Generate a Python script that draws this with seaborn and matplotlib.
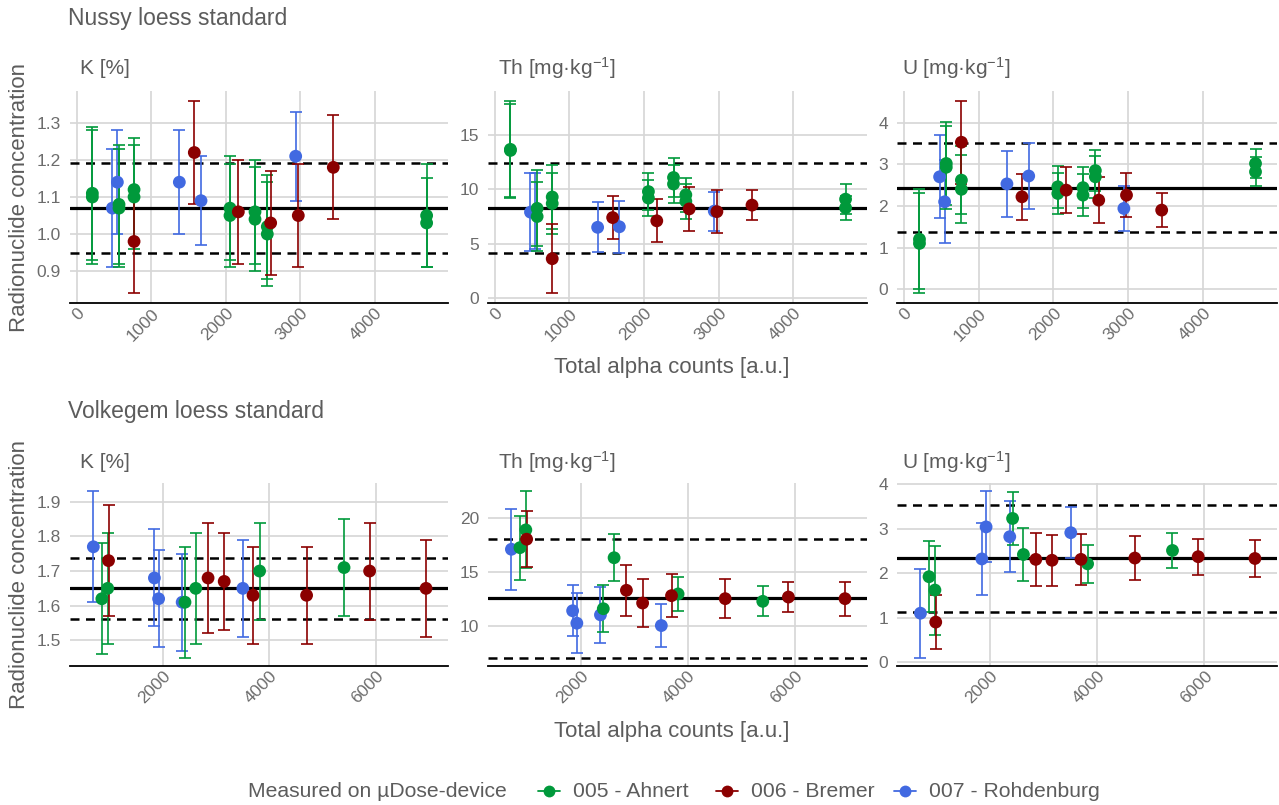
#!/usr/bin/env python3
"""
Loess standards measured on three uDose devices: K, Th and U against total alpha counts.
"""

import matplotlib
matplotlib.use("Agg")
import matplotlib.pyplot as plt
import matplotlib.transforms as mtransforms
from matplotlib.lines import Line2D
import pandas as pd
import seaborn as sns

W, H = 1279, 805

DEVICES = ["005 - Ahnert", "006 - Bremer", "007 - Rohdenburg"]
PALETTE = {"005 - Ahnert": "#00993B", "006 - Bremer": "#8B0000", "007 - Rohdenburg": "#4169E1"}
NUCLIDES = ["K", "Th", "U"]
STRIP_LABELS = ["K [%]", "Th [mg·kg$^{-1}$]", "U [mg·kg$^{-1}$]"]
SITES = ["Nussy loess standard", "Volkegem loess standard"]

# ---- Nussy loess standard ----
nussy_x_005 = [210, 210, 568, 568, 770, 770, 2058, 2058, 2394, 2394, 2559, 2559, 4698, 4698]
nussy_k_005 = [1.11, 1.10, 1.08, 1.07, 1.12, 1.10, 1.07, 1.05, 1.06, 1.04, 1.02, 1.00, 1.05, 1.03]
nussy_k_err_005 = [0.18, 0.18, 0.16, 0.16, 0.14, 0.14, 0.14, 0.14, 0.14, 0.14, 0.14, 0.14, 0.14, 0.12]
nussy_th_005 = [13.7, 13.6, 8.25, 7.5, 9.3, 8.7, 9.8, 9.2, 11.1, 10.5, 9.5, 8.9, 9.1, 8.3]
nussy_th_err_005 = [4.5, 4.3, 3.5, 3.2, 3.0, 2.8, 1.7, 1.7, 1.8, 1.8, 1.6, 1.6, 1.4, 1.1]
nussy_u_005 = [1.2, 1.1, 3.02, 2.93, 2.62, 2.4, 2.46, 2.3, 2.44, 2.26, 2.85, 2.7, 3.02, 2.82]
nussy_u_err_005 = [1.2, 1.2, 1.0, 1.0, 0.82, 0.82, 0.5, 0.5, 0.5, 0.5, 0.5, 0.5, 0.35, 0.35]

nussy_x_006 = [770, 1579, 2170, 2604, 2975, 3445]
nussy_k_006 = [0.98, 1.22, 1.06, 1.03, 1.05, 1.18]
nussy_k_err_006 = [0.14, 0.14, 0.14, 0.14, 0.14, 0.14]
nussy_th_006 = [3.6, 7.4, 7.1, 8.2, 7.95, 8.55]
nussy_th_err_006 = [3.2, 2.0, 2.0, 2.0, 2.0, 1.4]
nussy_u_006 = [3.53, 2.22, 2.38, 2.14, 2.26, 1.9]
nussy_u_err_006 = [1.0, 0.55, 0.56, 0.55, 0.52, 0.4]

nussy_x_007 = [479, 546, 1378, 1669, 2940]
nussy_k_007 = [1.07, 1.14, 1.14, 1.09, 1.21]
nussy_k_err_007 = [0.16, 0.14, 0.14, 0.12, 0.12]
nussy_th_007 = [7.9, 8.0, 6.5, 6.55, 8.0]
nussy_th_err_007 = [3.6, 3.5, 2.3, 2.4, 1.8]
nussy_u_007 = [2.7, 2.1, 2.53, 2.72, 1.94]
nussy_u_err_007 = [1.0, 1.0, 0.8, 0.8, 0.55]

# reference value and its uncertainty (solid and dashed lines)
nussy_ref = [1.07, 8.3, 2.44]
nussy_ref_sd = [0.122, 4.15, 1.07]

# ---- Volkegem loess standard ----
volk_x_005 = [860, 970, 2420, 2622, 3820, 5405]
volk_k_005 = [1.62, 1.65, 1.61, 1.65, 1.70, 1.71]
volk_k_err_005 = [0.16, 0.16, 0.16, 0.16, 0.14, 0.14]
volk_th_005 = [17.27, 18.93, 11.57, 16.33, 12.95, 12.26]
volk_th_err_005 = [3.0, 3.6, 2.2, 2.2, 1.6, 1.4]
volk_u_005 = [1.92, 1.62, 3.23, 2.42, 2.21, 2.51]
volk_u_err_005 = [0.8, 1.0, 0.6, 0.6, 0.42, 0.4]

volk_x_006 = [985, 2853, 3156, 3697, 4702, 5885, 6944]
volk_k_006 = [1.73, 1.68, 1.67, 1.63, 1.63, 1.70, 1.65]
volk_k_err_006 = [0.16, 0.16, 0.14, 0.14, 0.14, 0.14, 0.14]
volk_th_006 = [18.06, 13.29, 12.1, 12.79, 12.51, 12.66, 12.51]
volk_th_err_006 = [2.6, 2.4, 2.2, 2.0, 1.8, 1.4, 1.6]
volk_u_006 = [0.9, 2.31, 2.29, 2.31, 2.34, 2.37, 2.33]
volk_u_err_006 = [0.6, 0.6, 0.57, 0.57, 0.5, 0.4, 0.42]

volk_x_007 = [700, 1846, 1925, 2367, 3506]
volk_k_007 = [1.77, 1.68, 1.62, 1.61, 1.65]
volk_k_err_007 = [0.16, 0.14, 0.14, 0.14, 0.14]
volk_th_007 = [17.12, 11.38, 10.22, 11.0, 10.0]
volk_th_err_007 = [3.8, 2.4, 2.8, 2.6, 2.0]
volk_u_007 = [1.1, 2.32, 3.04, 2.82, 2.91]
volk_u_err_007 = [1.0, 0.8, 0.8, 0.8, 0.57]

volk_ref = [1.65, 12.55, 2.33]
volk_ref_sd = [0.088, 5.55, 1.21]

# axis ticks per row and panel
x_limits = [(-90, 4985), (262, 7356)]
x_ticks = [[0, 1000, 2000, 3000, 4000], [2000, 4000, 6000]]
y_ticks = [
    [[0.9, 1.0, 1.1, 1.2, 1.3], [0, 5, 10, 15], [0, 1, 2, 3, 4]],
    [[1.5, 1.6, 1.7, 1.8, 1.9], [10, 15, 20], [0, 1, 2, 3, 4]],
]

TEXT = "#5c5c5c"
TICK = "#6c6c6c"


def build_table():
    """Long table: one row per measurement and nuclide."""
    sources = {
        SITES[0]: {
            "007 - Rohdenburg": (nussy_x_007, [nussy_k_007, nussy_th_007, nussy_u_007],
                                 [nussy_k_err_007, nussy_th_err_007, nussy_u_err_007]),
            "005 - Ahnert": (nussy_x_005, [nussy_k_005, nussy_th_005, nussy_u_005],
                             [nussy_k_err_005, nussy_th_err_005, nussy_u_err_005]),
            "006 - Bremer": (nussy_x_006, [nussy_k_006, nussy_th_006, nussy_u_006],
                             [nussy_k_err_006, nussy_th_err_006, nussy_u_err_006]),
        },
        SITES[1]: {
            "007 - Rohdenburg": (volk_x_007, [volk_k_007, volk_th_007, volk_u_007],
                                 [volk_k_err_007, volk_th_err_007, volk_u_err_007]),
            "005 - Ahnert": (volk_x_005, [volk_k_005, volk_th_005, volk_u_005],
                             [volk_k_err_005, volk_th_err_005, volk_u_err_005]),
            "006 - Bremer": (volk_x_006, [volk_k_006, volk_th_006, volk_u_006],
                             [volk_k_err_006, volk_th_err_006, volk_u_err_006]),
        },
    }
    frames = []
    for site, devs in sources.items():
        for dev, (xs, vals, errs) in devs.items():
            for nuc, v, e in zip(NUCLIDES, vals, errs):
                frames.append(pd.DataFrame({"site": site, "device": dev, "nuclide": nuc,
                                            "x": xs, "value": v, "err": e}))
    return pd.concat(frames, ignore_index=True)


def px_axes(fig, left, top, right, bottom):
    return fig.add_axes([left / W, 1 - bottom / H, (right - left) / W, (bottom - top) / H])


def main():
    sns.set_theme(style="whitegrid")
    plt.rcParams["font.family"] = ["Liberation Sans", "DejaVu Sans"]
    plt.rcParams["mathtext.fontset"] = "custom"
    plt.rcParams["mathtext.rm"] = "Liberation Sans"
    plt.rcParams["mathtext.it"] = "Liberation Sans:italic"
    plt.rcParams["mathtext.bf"] = "Liberation Sans:bold"

    df = build_table()
    refs = [(nussy_ref, nussy_ref_sd), (volk_ref, volk_ref_sd)]

    fig = plt.figure(figsize=(W / 100, H / 100), dpi=100)
    fig.patch.set_facecolor("white")

    cols = [(70, 448), (488, 867), (897, 1277)]
    rows = [(91, 303), (483, 666)]
    strip_x = [80, 498, 902]
    strip_y = [68, 462]
    title_y = [18, 411]
    xlabel_y = [368, 731]

    for r, site in enumerate(SITES):
        ref, ref_sd = refs[r]
        for c, nuc in enumerate(NUCLIDES):
            ax = px_axes(fig, cols[c][0], rows[r][0], cols[c][1], rows[r][1])
            sub = df[(df.site == site) & (df.nuclide == nuc)]

            ax.axhline(ref[c], color="black", lw=2.3, zorder=2.5)
            for s in (-1, 1):
                ax.axhline(ref[c] + s * ref_sd[c], color="black", lw=1.8,
                           ls=(0, (3.6, 2.6)), zorder=2.5)

            for dev in ["007 - Rohdenburg", "005 - Ahnert", "006 - Bremer"]:
                d = sub[sub.device == dev]
                ax.errorbar(d.x, d.value, yerr=d.err, fmt="none", ecolor=PALETTE[dev],
                            elinewidth=1.2, capsize=4, capthick=1.2, zorder=3)

            sns.scatterplot(data=sub, x="x", y="value", hue="device", palette=PALETTE,
                            s=85, edgecolor="none", linewidth=0, alpha=1,
                            legend=False, ax=ax, zorder=4)

            # y range like ggplot: data incl. error bars and reference band, 5 % padding
            lo = min((sub.value - sub.err).min(), ref[c] - ref_sd[c])
            hi = max((sub.value + sub.err).max(), ref[c] + ref_sd[c])
            pad = 0.05 * (hi - lo)
            ax.set_ylim(lo - pad, hi + pad)
            ax.set_xlim(*x_limits[r])

            ax.set_xticks(x_ticks[r])
            ax.set_yticks(y_ticks[r][c])
            if nuc == "K":
                ax.set_yticklabels([f"{v:.1f}" for v in y_ticks[r][c]])
            else:
                ax.set_yticklabels([f"{v:g}" for v in y_ticks[r][c]])
            ax.set_xticklabels([str(v) for v in x_ticks[r]], rotation=45,
                               ha="right", va="top", rotation_mode="anchor")
            shift = mtransforms.ScaledTranslation(11 / 100, -11 / 100, fig.dpi_scale_trans)
            for lab in ax.get_xticklabels():
                lab.set_transform(lab.get_transform() + shift)

            ax.tick_params(axis="both", length=0, labelsize=12.5, labelcolor=TICK)
            ax.tick_params(axis="y", pad=6.5)
            ax.tick_params(axis="x", pad=2)
            ax.set_xlabel("")
            ax.set_ylabel("")
            ax.set_facecolor("white")
            ax.grid(True, color="#d6d6d6", lw=1.2)
            ax.set_axisbelow(True)
            for side in ["left", "right", "top"]:
                ax.spines[side].set_visible(False)
            ax.spines["bottom"].set_color("black")
            ax.spines["bottom"].set_linewidth(1.3)
            ax.spines["bottom"].set_zorder(5)

            fig.text(strip_x[c] / W, 1 - strip_y[r] / H, STRIP_LABELS[c], fontsize=15,
                     color=TEXT, ha="left", va="center")

        fig.text(68 / W, 1 - title_y[r] / H, site, fontsize=16.5, color=TEXT,
                 ha="left", va="center")
        mid = (rows[r][0] + rows[r][1]) / 2
        fig.text(20 / W, 1 - mid / H, "Radionuclide concentration", fontsize=16,
                 color=TEXT, rotation=90, ha="center", va="center")
        fig.text(672 / W, 1 - xlabel_y[r] / H, "Total alpha counts [a.u.]", fontsize=16,
                 color=TEXT, ha="center", va="center")

    # legend along the bottom
    ly = 1 - 791 / H
    fig.text(248 / W, ly, "Measured on µDose-device", fontsize=15.2, color=TEXT,
             ha="left", va="center")
    for dev, mx in zip(DEVICES, [549, 727, 905]):
        fig.add_artist(Line2D([(mx - 11) / W, (mx + 11) / W], [ly, ly], transform=fig.transFigure,
                              color=PALETTE[dev], lw=1.3))
        fig.add_artist(Line2D([mx / W], [ly], transform=fig.transFigure, color=PALETTE[dev],
                              marker="o", markersize=8.5, markeredgewidth=0, linestyle="none"))
        fig.text((mx + 24) / W, ly, dev, fontsize=15.2, color=TEXT, ha="left", va="center")

    fig.savefig("out.png", dpi=100)
    plt.close(fig)
    print("saved out.png")


if __name__ == "__main__":
    main()
